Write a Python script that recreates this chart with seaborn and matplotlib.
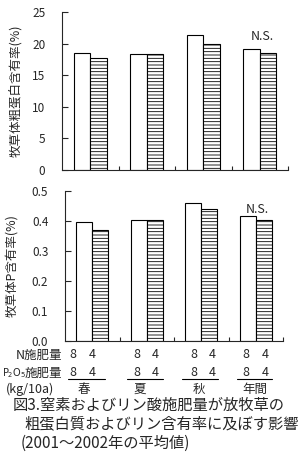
import matplotlib
matplotlib.use("Agg")
import matplotlib.pyplot as plt
import seaborn as sns
import pandas as pd
from matplotlib.lines import Line2D

# ---- data ----
seasons = ["春", "夏", "秋", "年間"]
n_levels = ["8", "4"]
protein_n8 = [18.5, 18.3, 21.4, 19.1]
protein_n4 = [17.7, 18.3, 19.9, 18.5]
phos_n8 = [0.396, 0.403, 0.459, 0.416]
phos_n4 = [0.370, 0.405, 0.439, 0.403]
protein_ticks = [0, 5, 10, 15, 20, 25]
phos_ticks = [0.0, 0.1, 0.2, 0.3, 0.4, 0.5]
ylabel_top = "牧草体粗蛋白含有率(%)"
ylabel_bottom = "牧草体P含有率(%)"
caption = ["図3.窒素およびリン酸施肥量が放牧草の",
           "粗蛋白質およびリン含有率に及ぼす影響",
           "(2001～2002年の平均値)"]

sns.set_style("ticks")
plt.rcParams['font.family'] = ['Noto Sans CJK JP', 'DejaVu Sans']
plt.rcParams['hatch.linewidth'] = 0.6
plt.rcParams['mathtext.fontset'] = 'dejavusans'

W, H = 299, 455
fig = plt.figure(figsize=(W / 100, H / 100), dpi=100)
fig.patch.set_facecolor("white")


def box(l, r, b, t):
    return [l / W, 1 - b / H, (r - l) / W, (b - t) / H]


ax1 = fig.add_axes(box(62, 288, 170, 12))
ax2 = fig.add_axes(box(65, 283, 341, 191))


def make_df(v8, v4):
    rows = []
    for s, a, b in zip(seasons, v8, v4):
        rows.append((s, n_levels[0], a))
        rows.append((s, n_levels[1], b))
    return pd.DataFrame(rows, columns=["season", "N", "value"])


for ax, v8, v4, ticks, lab, labx, fmt in [
        (ax1, protein_n8, protein_n4, protein_ticks, ylabel_top, -0.175, "{:g}"),
        (ax2, phos_n8, phos_n4, phos_ticks, ylabel_bottom, -0.213, "{:.1f}")]:
    df = make_df(v8, v4)
    sns.barplot(data=df, x="season", y="value", hue="N", hue_order=n_levels,
                order=seasons, palette=["white", "white"], edgecolor="black",
                linewidth=0.8, width=0.58, errorbar=None, legend=False,
                saturation=1, ax=ax)
    for bar in ax.containers[1]:
        bar.set_hatch("-----")
    ax.set_xlim(-0.5, 3.5)
    ax.set_ylim(ticks[0], ticks[-1])
    ax.set_yticks(ticks)
    ax.set_yticklabels([fmt.format(t) for t in ticks], fontsize=8.5)
    ax.set_xticks([])
    ax.set_xticks([0.5, 1.5, 2.5, 3.5], minor=True)
    ax.tick_params(axis="x", which="minor", direction="in", length=3,
                   width=0.8, labelbottom=False)
    ax.tick_params(axis="y", direction="in", length=4, width=0.8, pad=12)
    ax.set_xlabel("")
    ax.set_ylabel(lab, fontsize=9)
    ax.yaxis.set_label_coords(labx, 0.5)
    for sp in ["top", "right"]:
        ax.spines[sp].set_visible(False)
    for sp in ["left", "bottom"]:
        ax.spines[sp].set_linewidth(0.8)

ax1.text(3.04, 21.2, "N.S.", ha="center", va="center", fontsize=9)
ax2.text(3.03, 0.437, "N.S.", ha="center", va="center", fontsize=9)

# ---- treatment rows under the chart ----
num_x = [(73, 92), (137, 155), (194, 212), (246, 265)]
season_x = [84, 140, 199, 255]
line_x = [(68, 105), (127, 163), (182, 218), (237, 272)]

fs = 9


def ftext(x, y, s, **kw):
    kw.setdefault("fontsize", fs)
    kw.setdefault("va", "center")
    fig.text(x / W, 1 - y / H, s, **kw)


ftext(62, 355, "N施肥量", ha="right")
ftext(62, 373, "施肥量", ha="right")
ftext(2, 373, r"$\mathrm{P_2O_5}$", ha="left", fontsize=7)
ftext(6, 389, "(kg/10a)", ha="left")
for (xa, xb), sx, (la, lb), s in zip(num_x, season_x, line_x, seasons):
    for y in (355, 373):
        ftext(xa, y, n_levels[0], ha="center")
        ftext(xb, y, n_levels[1], ha="center")
    fig.add_artist(Line2D([la / W, lb / W], [1 - 379 / H, 1 - 379 / H],
                          color="black", lw=0.8, transform=fig.transFigure))
    ftext(sx, 389, s, ha="center")

# ---- caption ----
cap_pos = [(13, 405), (24, 424), (21, 443)]
for (cx, cy), line in zip(cap_pos, caption):
    ftext(cx, cy, line, ha="left", fontsize=11)

fig.savefig("out.png", dpi=100, facecolor="white")
